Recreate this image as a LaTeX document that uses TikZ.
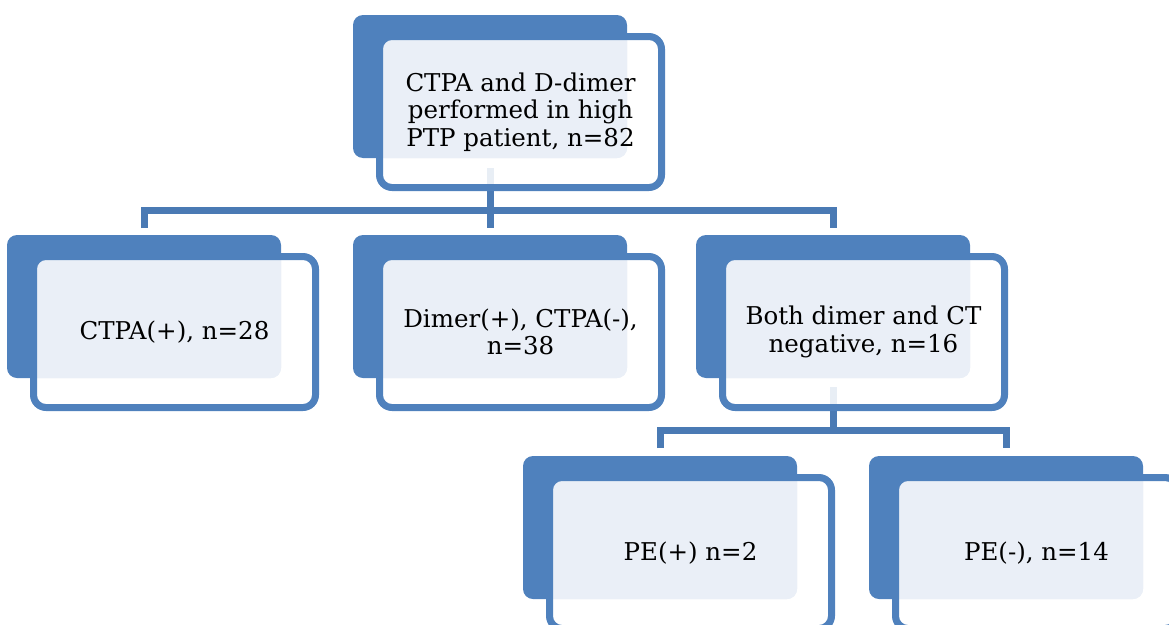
\documentclass[tikz,border=0pt]{standalone}
\usepackage{fontspec}
\setmainfont{DejaVu Serif}
\definecolor{sblue}{HTML}{4F81BD}
\definecolor{cblue}{HTML}{4A7AB4}
\definecolor{lfill}{HTML}{EAEFF7}
\newcommand\placebox[3]{%
  \node[backshape] (#1b) at (#2+137,#3+71.5) {};
  \node[frontshape] (#1) at (#2+167.5,#3+97) {};
}
\begin{document}
\begin{tikzpicture}[x=1pt,y=-1pt,
  backshape/.style={rectangle,minimum width=274pt,minimum height=143pt,inner sep=0pt,outer sep=0pt},
  frontshape/.style={rectangle,minimum width=289pt,minimum height=158pt,inner sep=0pt,outer sep=0pt},
  conn/.style={cblue,line width=7pt,line join=miter},
  txt/.style={align=center,text=black,font=\fontsize{24.5}{27.5}\selectfont}]
\useasboundingbox (0,0) rectangle (1169,624);
\clip (0,0) rectangle (1169,624);
\placebox{top}{353}{15}
\placebox{c1}{7}{235}
\placebox{c2}{353}{235}
\placebox{c3}{696}{235}
\placebox{d1}{523}{456}
\placebox{d2}{869}{456}
\coordinate (bar1) at (489.5,210);
\coordinate (bar2) at (833,430);
% back rectangles
\foreach \n in {top,c1,c2,c3,d1,d2}{
  \fill[sblue,rounded corners=10pt] (\n b.north west) rectangle (\n b.south east);
}
% connectors
\draw[conn] ([yshift=-10pt]topb.south) -- ([yshift=7pt]c2b.north);
\draw[conn] ([yshift=7pt]c1b.north) |- (bar1) -| ([yshift=7pt]c3b.north);
\draw[conn] ([yshift=-9pt]c3b.south) -- (bar2);
\draw[conn] ([yshift=8pt]d1b.north) |- (bar2) -| ([yshift=8pt]d2b.north);
% front boxes
\foreach \n in {top,c1,c2,c3,d1,d2}{
  \fill[white,fill opacity=0.88,rounded corners=9pt] ([shift={(6.5pt,-6.5pt)}]\n.north west) rectangle ([shift={(-6.5pt,6.5pt)}]\n.south east);
  \begin{scope}
    \clip[rounded corners=9pt] ([shift={(6.5pt,-6.5pt)}]\n.north west) rectangle ([shift={(-6.5pt,6.5pt)}]\n.south east);
    \fill[lfill,rounded corners=10pt] (\n b.north west) rectangle (\n b.south east);
  \end{scope}
  \fill[sblue,even odd rule]
    [rounded corners=16pt] (\n.north west) rectangle (\n.south east)
    [rounded corners=9pt] ([shift={(7pt,-7pt)}]\n.north west) rectangle ([shift={(-7pt,7pt)}]\n.south east);
}
\node[txt] at (top) {CTPA and D-dimer\\performed in high\\PTP patient, n=82};
\node[txt] at (c1) {CTPA(+), n=28};
\node[txt] at (c2) {Dimer(+), CTPA(-),\\n=38};
\node[txt] at (c3) {Both dimer and CT\\negative, n=16};
\node[txt] at (d1) {PE(+) n=2};
\node[txt] at (d2) {PE(-), n=14};
\end{tikzpicture}
\end{document}
